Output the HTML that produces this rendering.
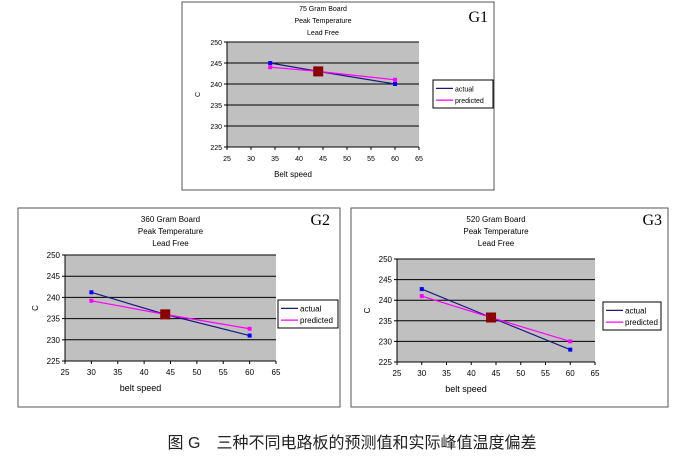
<!DOCTYPE html>
<html><head><meta charset="utf-8">
<style>
body{margin:0;width:694px;height:472px;background:#fff;overflow:hidden;font-family:"Liberation Sans",sans-serif;}
svg{position:absolute;left:0;top:0}
</style></head>
<body>
<svg id="s" width="694" height="472" xmlns="http://www.w3.org/2000/svg"></svg>
<script>
// Shared axis data
const xTicks=[25,30,35,40,45,50,55,60,65];
const yTicks=[225,230,235,240,245,250];
const legendLabels=["actual","predicted"];
// G1 data
const g1Speeds=[34,44,60];
const g1Actual=[245,243,240];
const g1Predicted=[244,243,241];
const g1Marker=[44,243];
// G2 data
const g2Speeds=[30,44,60];
const g2Actual=[241.2,236,231];
const g2Predicted=[239.2,236,232.6];
const g2Marker=[44,236];
// G3 data
const g3Speeds=[30,44,60];
const g3Actual=[242.7,235.8,228];
const g3Predicted=[241,235.8,230];
const g3Marker=[44,235.8];

const NS="http://www.w3.org/2000/svg";
const svg=document.getElementById('s');
function mk(tag,attrs,parent,text){const e=document.createElementNS(NS,tag);for(const k in attrs)e.setAttribute(k,attrs[k]);if(text!==undefined)e.textContent=text;(parent||svg).appendChild(e);return e;}

function chart(cfg){
  const g=mk('g',{});
  
  
  const fr=mk('rect',{x:cfg.fx,y:cfg.fy,width:cfg.fw,height:cfg.fh,fill:'#fff',stroke:'#555','stroke-width':1},g);
  
  
  const p=cfg.p;
  const X=v=>p.x+(v-25)/(65-25)*p.w;
  const Y=v=>p.y+p.h-(v-225)/(250-225)*p.h;
  const pa=mk('rect',{x:p.x,y:p.y,width:p.w,height:p.h,fill:'#c0c0c0'},g);
  
  
  yTicks.forEach(t=>{
    const l=mk('line',{x1:p.x,x2:p.x+p.w,y1:Y(t),y2:Y(t),stroke:'#000','stroke-width':t==225?1:1},g);
    
    
    mk('line',{x1:p.x-3,x2:p.x,y1:Y(t),y2:Y(t),stroke:'#000'},g);
    const tx=mk('text',{x:p.x-5,y:Y(t)+3,'font-size':cfg.fs,'text-anchor':'end',fill:'#000'},g,t);
    
    
  });
  mk('line',{x1:p.x,x2:p.x,y1:p.y,y2:p.y+p.h,stroke:'#000'},g);
  xTicks.forEach(t=>{
    mk('line',{x1:X(t),x2:X(t),y1:p.y+p.h,y2:p.y+p.h+3,stroke:'#000'},g);
    const tx=mk('text',{x:X(t),y:p.y+p.h+14,'font-size':cfg.fs,'text-anchor':'middle',fill:'#000'},g,t);
    
    
  });
  const series=[[cfg.actual,'#1a1a80','#0000ff','actual'],[cfg.pred,'#ff00ff','#ff00ff','predicted']];
  series.forEach(([vals,col,mcol,nm])=>{
    const pts=cfg.speeds.map((s,i)=>X(s)+','+Y(vals[i])).join(' ');
    const pl=mk('polyline',{points:pts,fill:'none',stroke:col,'stroke-width':1.2},g);
    
    
    [0,cfg.speeds.length-1].forEach(i=>{
      const m=mk('rect',{x:X(cfg.speeds[i])-2,y:Y(vals[i])-2,width:4,height:4,fill:mcol},g);
      
      
    });
  });
  const mm=mk('rect',{x:X(cfg.marker[0])-5,y:Y(cfg.marker[1])-5,width:10,height:10,fill:'#8b0000'},g);
  
  
  cfg.title.forEach((t,i)=>{
    const tx=mk('text',{x:p.x+p.w/2,y:cfg.ty+i*12,'font-size':cfg.fs,'text-anchor':'middle',fill:'#000'},g,t);
    
    
  });
  const gl=mk('text',{x:cfg.gx,y:cfg.gy,'font-size':16,'font-family':'Liberation Serif,serif','text-anchor':'end',fill:'#000'},g,cfg.id.toUpperCase());
  
  
  const xl=mk('text',{x:p.x+p.w/2-30,y:p.y+p.h+30,'font-size':cfg.fs+1,fill:'#000','text-anchor':'middle'},g,cfg.xlabel);
  
  
  const yl=mk('text',{x:p.x-30,y:p.y+p.h/2+3,'font-size':cfg.fs,fill:'#000','text-anchor':'middle',transform:`rotate(-90 ${p.x-30} ${p.y+p.h/2})`},g,'C');
  
  
  const L=cfg.leg;
  const lb=mk('rect',{x:L.x,y:L.y,width:L.w,height:L.h,fill:'#fff',stroke:'#000'},g);
  
  
  legendLabels.forEach((t,i)=>{
    const yy=L.y+L.h*(i==0?0.3:0.72);
    mk('line',{x1:L.x+3,x2:L.x+20,y1:yy,y2:yy,stroke:i==0?'#1a1a80':'#ff00ff','stroke-width':1.3},g);
    const tx=mk('text',{x:L.x+22,y:yy+3,'font-size':cfg.fs,fill:'#000'},g,t);
    
    
  });
}
chart({id:'g1',fx:182,fy:2,fw:312,fh:188,p:{x:227,y:42,w:192,h:105},fs:7,
  title:['75 Gram Board','Peak Temperature','Lead Free'],ty:11,gx:488,gy:22,xlabel:'Belt speed',
  leg:{x:433,y:80,w:60,h:28},speeds:g1Speeds,actual:g1Actual,pred:g1Predicted,marker:g1Marker});
chart({id:'g2',fx:18,fy:208,fw:322,fh:199,p:{x:65,y:255,w:211,h:106},fs:8,
  title:['360 Gram Board','Peak Temperature','Lead Free'],ty:222,gx:330,gy:225,xlabel:'belt speed',
  leg:{x:278,y:300,w:60,h:28},speeds:g2Speeds,actual:g2Actual,pred:g2Predicted,marker:g2Marker});
chart({id:'g3',fx:351,fy:208,fw:317,fh:199,p:{x:397,y:259,w:198,h:103},fs:8,
  title:['520 Gram Board','Peak Temperature','Lead Free'],ty:222,gx:662,gy:225,xlabel:'belt speed',
  leg:{x:603,y:302,w:58,h:28},speeds:g3Speeds,actual:g3Actual,pred:g3Predicted,marker:g3Marker});
const cap=mk('text',{x:352,y:448,'font-size':16,'text-anchor':'middle',fill:'#222','font-family':'"Liberation Sans","Noto Sans CJK SC",sans-serif'},svg,'图 G　三种不同电路板的预测值和实际峰值温度偏差');


</script>
</body></html>
